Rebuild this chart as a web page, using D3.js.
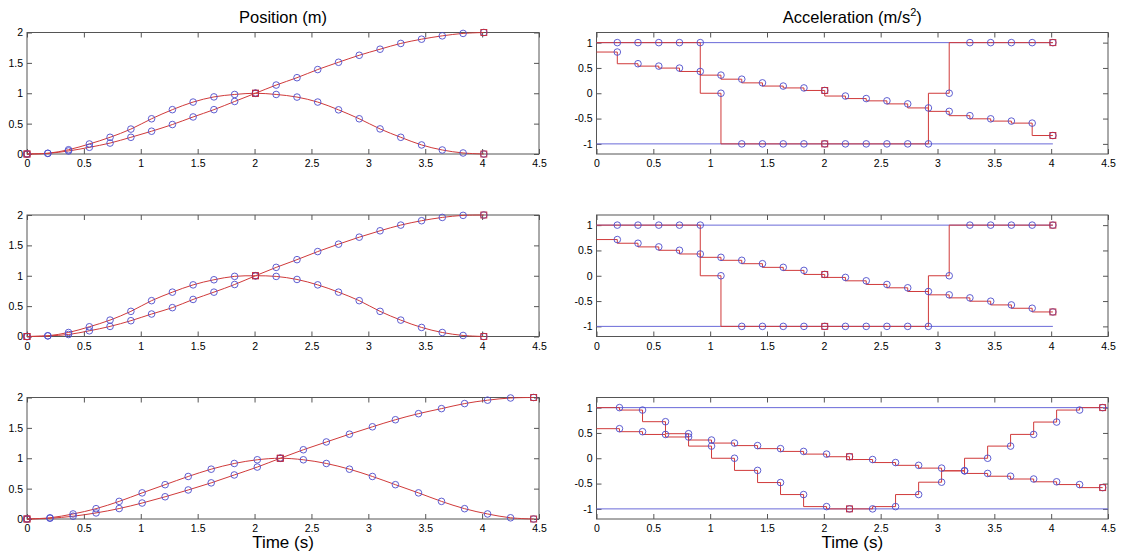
<!DOCTYPE html>
<html><head><meta charset="utf-8">
<script src="https://cdn.jsdelivr.net/npm/d3@7"></script>
<style>
body{margin:0;background:#fff}
svg{display:block}
text{font-family:"Liberation Sans",Arial,Helvetica,sans-serif;fill:#000}
</style>
</head><body>
<svg id="c" width="1121" height="560"></svg>
<script>
// ---------- DATA ----------
// sample times (s)
const timeShort = [0, 0.183, 0.365, 0.548, 0.730, 0.913, 1.095, 1.278, 1.460, 1.643, 1.825, 2.008,
  2.190, 2.373, 2.555, 2.738, 2.920, 3.103, 3.285, 3.468, 3.650, 3.833, 4.015];
const timeLong = [0, 0.202, 0.405, 0.607, 0.810, 1.012, 1.214, 1.417, 1.619, 1.822, 2.024, 2.226,
  2.429, 2.631, 2.834, 3.036, 3.238, 3.441, 3.643, 3.846, 4.048, 4.250, 4.453];

// position (m)
const posRise1 = [0, 0.01, 0.05, 0.11, 0.18, 0.275, 0.375, 0.485, 0.61, 0.73, 0.865, 1.0,
  1.135, 1.256, 1.39, 1.51, 1.625, 1.725, 1.82, 1.89, 1.945, 1.985, 2.0];
const posBump1 = [0, 0.012, 0.07, 0.165, 0.275, 0.41, 0.58, 0.73, 0.855, 0.94, 0.98, 1.0,
  0.98, 0.937, 0.855, 0.727, 0.58, 0.413, 0.275, 0.149, 0.066, 0.017, 0];
const posRise2 = [0, 0.01, 0.033, 0.094, 0.166, 0.26, 0.37, 0.475, 0.61, 0.73, 0.856, 1.0,
  1.138, 1.265, 1.398, 1.52, 1.635, 1.74, 1.834, 1.906, 1.96, 1.994, 2.0];
const posBump2 = [0, 0.012, 0.066, 0.16, 0.27, 0.414, 0.59, 0.73, 0.85, 0.934, 0.99, 1.0,
  0.989, 0.939, 0.85, 0.73, 0.59, 0.414, 0.27, 0.149, 0.066, 0.017, 0];
const posRise3 = [0, 0.012, 0.046, 0.1, 0.172, 0.263, 0.366, 0.478, 0.595, 0.725, 0.855, 1.0,
  1.14, 1.268, 1.396, 1.518, 1.634, 1.734, 1.817, 1.9, 1.956, 1.992, 2.0];
const posBump3 = [0, 0.02, 0.083, 0.17, 0.29, 0.43, 0.565, 0.7, 0.82, 0.914, 0.975, 1.0,
  0.975, 0.914, 0.82, 0.7, 0.565, 0.43, 0.29, 0.17, 0.083, 0.02, 0];

// acceleration (m/s^2), one value per sample t1..t22 (held before each sample)
const accBang1 = [1, 1, 1, 1, 1, 0, -1, -1, -1, -1, -1, -1, -1, -1, -1, -1, 0, 1, 1, 1, 1, 1];
const accRamp1 = [0.814, 0.583, 0.536, 0.497, 0.43, 0.358, 0.278, 0.205, 0.142, 0.105, 0.055,
  -0.055, -0.105, -0.15, -0.21, -0.29, -0.358, -0.443, -0.505, -0.55, -0.59, -0.835];
const accBang2 = [1, 1, 1, 1, 1, 0, -1, -1, -1, -1, -1, -1, -1, -1, -1, -1, 0, 1, 1, 1, 1, 1];
const accRamp2 = [0.715, 0.642, 0.57, 0.503, 0.43, 0.364, 0.305, 0.238, 0.166, 0.106, 0.026,
  -0.033, -0.1, -0.172, -0.238, -0.311, -0.377, -0.437, -0.503, -0.576, -0.642, -0.715];
const accVee3 = [1.0, 0.952, 0.722, 0.485, 0.24, 0, -0.24, -0.48, -0.717, -0.955, -1.0,
  -1.0, -0.955, -0.717, -0.473, -0.248, 0, 0.24, 0.471, 0.715, 0.952, 1.0];
const accRamp3 = [0.584, 0.525, 0.47, 0.42, 0.36, 0.30, 0.25, 0.19, 0.135, 0.082, 0.03,
  -0.025, -0.085, -0.14, -0.195, -0.248, -0.30, -0.355, -0.41, -0.465, -0.52, -0.58];

const accLimits = [1, -1];
const limitEnd = [4.015, 4.015, 4.5];   // extent of limit lines per row
const squareIdx = [0, 11, 22];          // samples marked with red squares

const xTicks = [0, 0.5, 1, 1.5, 2, 2.5, 3, 3.5, 4, 4.5];
const posTicks = [0, 0.5, 1, 1.5, 2];
const accTicks = [-1, -0.5, 0, 0.5, 1];
const xDomain = [0, 4.5];
const posDomain = [0, 2];
const accDomain = [-1.2, 1.2];

const titles = ["Position (m)", "Acceleration (m/s", "2", ")"];
const xLabel = "Time (s)";

// ---------- LAYOUT ----------
const svg = d3.select("#c");
const colX = [[27, 539], [596.5, 1108]];
const rowY = [32.5, 215, 397.5];
const panelH = 121.5;
const RED = "#d03a3a", BLUE = "#4d4dcc", LIM = "#6a6ad8", AX = "#555";

const rows = [
  {t: timeShort, pos: [posRise1, posBump1], acc: [accBang1, accRamp1]},
  {t: timeShort, pos: [posRise2, posBump2], acc: [accBang2, accRamp2]},
  {t: timeLong,  pos: [posRise3, posBump3], acc: [accVee3, accRamp3]}
];

function frame(g, x, y, yTicks) {
  const [x0, x1] = x.range(), [y0, y1] = y.range();
  const fmt = d => String(d);
  const ab = g.append("g").attr("transform", `translate(0,${y0})`)
    .call(d3.axisBottom(x).tickValues(xTicks).tickSize(-5).tickPadding(6).tickFormat(fmt));
  const at = g.append("g").attr("transform", `translate(0,${y1})`)
    .call(d3.axisTop(x).tickValues(xTicks).tickSize(-5).tickFormat(""));
  const al = g.append("g").attr("transform", `translate(${x0},0)`)
    .call(d3.axisLeft(y).tickValues(yTicks).tickSize(-5).tickPadding(4).tickFormat(fmt));
  const ar = g.append("g").attr("transform", `translate(${x1},0)`)
    .call(d3.axisRight(y).tickValues(yTicks).tickSize(-5).tickFormat(""));
  [ab, at, al, ar].forEach(a => {
    a.select(".domain").remove();
    a.selectAll("line").attr("stroke", AX);
    a.selectAll("text").attr("font-size", 10.5).attr("fill", "#000")
      .attr("font-family", '"Liberation Sans",Arial,sans-serif');
  });
  g.append("rect").attr("x", x0).attr("y", y1).attr("width", x1 - x0).attr("height", y0 - y1)
    .attr("fill", "none").attr("stroke", AX).attr("stroke-width", 1);
}

function markers(g, pts, squares) {
  g.append("g").selectAll("circle").data(pts).join("circle")
    .attr("cx", d => d[0]).attr("cy", d => d[1]).attr("r", 3.3)
    .attr("fill", "none").attr("stroke", BLUE).attr("stroke-width", 0.9);
  g.append("g").selectAll("rect").data(squares).join("rect")
    .attr("x", d => d[0] - 3).attr("y", d => d[1] - 3).attr("width", 6).attr("height", 6)
    .attr("fill", "none").attr("stroke", "#c42a3a").attr("stroke-width", 0.9);
}

rows.forEach((r, ri) => {
  const top = rowY[ri], bot = top + panelH;
  // position panel
  {
    const x = d3.scaleLinear(xDomain, colX[0]);
    const y = d3.scaleLinear(posDomain, [bot, top]);
    const g = svg.append("g");
    frame(g, x, y, posTicks);
    const line = d3.line().x((d, i) => x(r.t[i])).y(d => y(d)).curve(d3.curveCatmullRom.alpha(0.5));
    r.pos.forEach(s => {
      g.append("path").attr("d", line(s)).attr("fill", "none").attr("stroke", RED).attr("stroke-width", 1);
    });
    r.pos.forEach(s => {
      const pts = s.map((v, i) => [x(r.t[i]), y(v)]);
      markers(g, pts, squareIdx.map(i => pts[i]));
    });
  }
  // acceleration panel
  {
    const x = d3.scaleLinear(xDomain, colX[1]);
    const y = d3.scaleLinear(accDomain, [bot, top]);
    const g = svg.append("g");
    frame(g, x, y, accTicks);
    accLimits.forEach(L => {
      g.append("line").attr("x1", x(0)).attr("x2", x(limitEnd[ri]))
        .attr("y1", y(L)).attr("y2", y(L)).attr("stroke", LIM).attr("stroke-width", 1);
    });
    const step = d3.line().x(d => x(d[0])).y(d => y(d[1])).curve(d3.curveStepBefore);
    r.acc.forEach(s => {
      const pts = [[0, s[0]]].concat(s.map((v, i) => [r.t[i + 1], v]));
      g.append("path").attr("d", step(pts)).attr("fill", "none").attr("stroke", RED).attr("stroke-width", 1);
    });
    r.acc.forEach(s => {
      const pts = s.map((v, i) => [x(r.t[i + 1]), y(v)]);
      markers(g, pts, squareIdx.filter(i => i > 0).map(i => pts[i - 1]));
    });
  }
});

// titles
svg.append("text").attr("x", (colX[0][0] + colX[0][1]) / 2).attr("y", 23)
  .attr("text-anchor", "middle").attr("font-size", 16.5).text(titles[0]);
const at = svg.append("text").attr("x", (colX[1][0] + colX[1][1]) / 2).attr("y", 23)
  .attr("text-anchor", "middle").attr("font-size", 16.5);
at.append("tspan").text(titles[1]);
at.append("tspan").attr("font-size", 11).attr("dy", -7).text(titles[2]);
at.append("tspan").attr("dy", 7).text(titles[3]);

[0, 1].forEach(c => {
  svg.append("text").attr("x", (colX[c][0] + colX[c][1]) / 2).attr("y", 548)
    .attr("text-anchor", "middle").attr("font-size", 17).text(xLabel);
});
</script>
</body></html>
